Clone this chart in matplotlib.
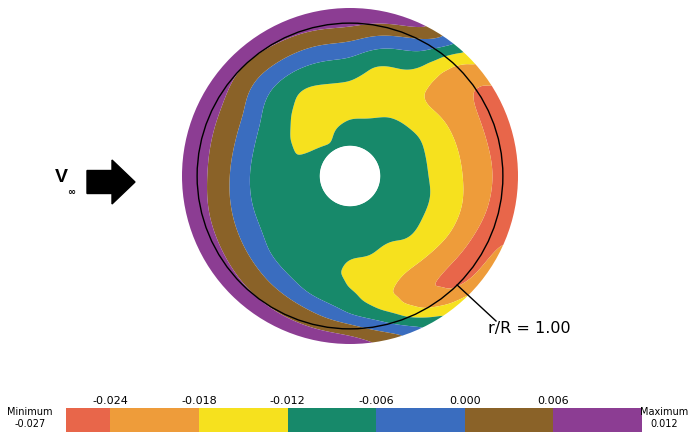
import numpy as np
import matplotlib
matplotlib.use("Agg")
import matplotlib.pyplot as plt
import matplotlib.cm as cm
from matplotlib.colors import ListedColormap, BoundaryNorm
from matplotlib.patches import Circle

ray_angles = [0, 15, 30, 45, 60, 75, 90, 105, 120, 135, 150, 165,
              180, 195, 210, 225, 240, 255, 270, 285, 300, 315, 330, 345]
# r/R of the samples on each ray (hole edge -> rim)
ray_radii = [0.18, 0.26, 0.34, 0.42, 0.50, 0.58, 0.66, 0.74, 0.82, 0.90, 0.96, 1.00]

ray_000 = [-0.0095, -0.0100, -0.0105, -0.0113, -0.0126, -0.0152, -0.0177, -0.0205, -0.0233, -0.0251, -0.0263, -0.0270]
ray_015 = [-0.0095, -0.0100, -0.0105, -0.0113, -0.0126, -0.0154, -0.0180, -0.0208, -0.0237, -0.0252, -0.0263, -0.0270]
ray_030 = [-0.0095, -0.0098, -0.0103, -0.0110, -0.0124, -0.0152, -0.0183, -0.0208, -0.0234, -0.0254, -0.0264, -0.0262]
ray_045 = [-0.0095, -0.0097, -0.0100, -0.0112, -0.0138, -0.0172, -0.0195, -0.0212, -0.0222, -0.0215, -0.0192, -0.0162]
ray_060 = [-0.0095, -0.0100, -0.0110, -0.0122, -0.0145, -0.0153, -0.0138, -0.0105, -0.0068, -0.0015, 0.0040, 0.0065]
ray_075 = [-0.0098, -0.0105, -0.0118, -0.0135, -0.0145, -0.0148, -0.0135, -0.0096, -0.0043, 0.0030, 0.0085, 0.0105]
ray_090 = [-0.0098, -0.0107, -0.0120, -0.0135, -0.0138, -0.0111, -0.0077, -0.0033, 0.0022, 0.0075, 0.0095, 0.0105]
ray_105 = [-0.0100, -0.0112, -0.0128, -0.0138, -0.0135, -0.0116, -0.0082, -0.0040, 0.0013, 0.0065, 0.0092, 0.0105]
ray_120 = [-0.0112, -0.0128, -0.0138, -0.0142, -0.0140, -0.0127, -0.0088, -0.0040, 0.0012, 0.0060, 0.0088, 0.0102]
ray_135 = [-0.0108, -0.0123, -0.0135, -0.0134, -0.0120, -0.0098, -0.0075, -0.0040, 0.0010, 0.0050, 0.0085, 0.0102]
ray_150 = [-0.0104, -0.0117, -0.0128, -0.0118, -0.0097, -0.0074, -0.0041, 0.0008, 0.0040, 0.0075, 0.0095, 0.0108]
ray_165 = [-0.0100, -0.0110, -0.0115, -0.0104, -0.0088, -0.0066, -0.0025, 0.0016, 0.0048, 0.0080, 0.0098, 0.0110]
ray_180 = [-0.0098, -0.0102, -0.0103, -0.0098, -0.0088, -0.0068, -0.0027, 0.0013, 0.0049, 0.0083, 0.0100, 0.0110]
ray_195 = [-0.0097, -0.0100, -0.0102, -0.0098, -0.0090, -0.0071, -0.0035, 0.0004, 0.0038, 0.0075, 0.0095, 0.0108]
ray_210 = [-0.0096, -0.0099, -0.0101, -0.0099, -0.0092, -0.0072, -0.0042, -0.0005, 0.0032, 0.0070, 0.0092, 0.0106]
ray_225 = [-0.0096, -0.0099, -0.0102, -0.0101, -0.0095, -0.0082, -0.0063, -0.0018, 0.0023, 0.0060, 0.0088, 0.0103]
ray_240 = [-0.0097, -0.0100, -0.0103, -0.0103, -0.0099, -0.0090, -0.0074, -0.0045, 0.0010, 0.0050, 0.0085, 0.0102]
ray_255 = [-0.0098, -0.0102, -0.0106, -0.0108, -0.0107, -0.0100, -0.0086, -0.0068, -0.0010, 0.0042, 0.0080, 0.0098]
ray_270 = [-0.0098, -0.0103, -0.0108, -0.0113, -0.0122, -0.0133, -0.0123, -0.0093, -0.0060, 0.0025, 0.0078, 0.0095]
ray_285 = [-0.0098, -0.0103, -0.0108, -0.0114, -0.0120, -0.0140, -0.0158, -0.0168, -0.0125, -0.0060, 0.0000, 0.0035]
ray_300 = [-0.0097, -0.0102, -0.0108, -0.0115, -0.0129, -0.0155, -0.0182, -0.0210, -0.0234, -0.0198, -0.0135, -0.0095]
ray_315 = [-0.0096, -0.0099, -0.0104, -0.0110, -0.0115, -0.0142, -0.0180, -0.0220, -0.0252, -0.0258, -0.0232, -0.0180]
ray_330 = [-0.0096, -0.0098, -0.0102, -0.0108, -0.0120, -0.0144, -0.0168, -0.0204, -0.0246, -0.0262, -0.0240, -0.0220]
ray_345 = [-0.0095, -0.0098, -0.0102, -0.0108, -0.0120, -0.0144, -0.0168, -0.0198, -0.0235, -0.0255, -0.0265, -0.0268]

rays = [ray_000, ray_015, ray_030, ray_045, ray_060, ray_075, ray_090, ray_105,
        ray_120, ray_135, ray_150, ray_165, ray_180, ray_195, ray_210, ray_225,
        ray_240, ray_255, ray_270, ray_285, ray_300, ray_315, ray_330, ray_345]

cbar_bounds = [-0.027, -0.024, -0.018, -0.012, -0.006, 0.000, 0.006, 0.012]
cbar_ticks = [-0.024, -0.018, -0.012, -0.006, 0.000, 0.006]
cbar_ticklabels = ["-0.024", "-0.018", "-0.012", "-0.006", "0.000", "0.006"]
band_colors = ["#E8664A", "#EE9C3A", "#F6E11E", "#17896A", "#3A6DBF", "#8A6228", "#8C3D93"]

hole_r = 0.179
ref_circle_r = 0.91   # r/R = 1.00 circle


def gauss_kernel(sig):
    n = int(3*sig) + 1
    k = np.exp(-0.5*(np.arange(-n, n + 1)/sig)**2)
    return k/k.sum(), n


# ---------------------------------------------------------------------------
fig = plt.figure(figsize=(6.92, 4.35), dpi=100, facecolor="white")
ax = fig.add_axes([0, 0, 1, 1])
ax.set_xlim(-350/168., 342/168.)
ax.set_ylim(-258/168., 177/168.)
ax.set_aspect("equal")
ax.axis("off")

# bilinear resample of the ray samples onto a fine polar mesh
Z = np.array(rays)
tf = np.arange(0, 360, 0.5)
rf = np.linspace(0.18, 1.04, 173)
zr = np.array([np.interp(rf, ray_radii, row) for row in Z])           # along r
zf = np.array([np.interp(tf, ray_angles, col, period=360) for col in zr.T]).T  # along theta

# soften the kinks at the sample rays / rings
k, n = gauss_kernel(10.0)                    # ~5 deg along theta, wraps round
zp = np.vstack([zf[-n:], zf, zf[:n]])
zf = np.apply_along_axis(lambda c: np.convolve(c, k, mode="valid"), 0, zp)
k, n = gauss_kernel(3.0)                     # ~0.015 r/R along r
zp = np.hstack([np.repeat(zf[:, :1], n, 1), zf, np.repeat(zf[:, -1:], n, 1)])
zf = np.apply_along_axis(lambda c: np.convolve(c, k, mode="valid"), 1, zp)

TF, RF = np.meshgrid(np.radians(np.append(tf, 360.0)), rf, indexing="ij")
zf = np.vstack([zf, zf[:1]])

levels = [-1.0] + cbar_ticks + [1.0]
cf = ax.contourf(RF*np.cos(TF), RF*np.sin(TF), zf, levels=levels,
                 colors=band_colors, antialiased=True)
disk = Circle((0, 0), 1.0, transform=ax.transData)
cf.set_clip_path(disk)

ax.add_patch(Circle((0, 0), hole_r, fc="white", ec="none", zorder=3))
ax.add_patch(Circle((0, 0), ref_circle_r, fill=False, ec="black", lw=1.0, zorder=4))

# r/R label with leader line
la = np.radians(-45.5)
p0 = (ref_circle_r*np.cos(la), ref_circle_r*np.sin(la))
p1 = (146/168., -145/168.)
ax.plot([p0[0], p1[0]], [p0[1], p1[1]], color="black", lw=1.0, zorder=4)
ax.text(138/168., -152/168., "r/R = 1.00", fontsize=11.5, ha="left", va="center",
        family="DejaVu Sans")

# free-stream arrow
ax.arrow(-263/168., -6/168., 48/168., 0, width=23/168., head_width=44/168.,
         head_length=23/168., length_includes_head=True, fc="black", ec="black")
ax.text(-289/168., -1/168., "V", fontsize=14, fontweight="bold", ha="center",
        va="center", family="Liberation Sans")
ax.text(-279/168., -15/168., "\u221e", fontsize=7, fontweight="bold", ha="center",
        va="center")

# colour bar
cax = fig.add_axes([66/692., 2/435., 576/692., 24/435.])
sm = cm.ScalarMappable(norm=BoundaryNorm(cbar_bounds, len(band_colors)),
                       cmap=ListedColormap(band_colors))
cb = fig.colorbar(sm, cax=cax, orientation="horizontal", spacing="proportional",
                  ticks=cbar_ticks)
cb.outline.set_visible(False)
cax.minorticks_off()
cax.xaxis.set_ticks_position("top")
cax.set_xticks(cbar_ticks)
cax.set_xticklabels(cbar_ticklabels)
cax.tick_params(axis="x", which="both", length=0, pad=2, labelsize=8)

fig.text(30/692., 1 - 418/435., "Minimum\n-0.027", fontsize=7, ha="center",
         va="center", linespacing=1.3)
fig.text(664/692., 1 - 418/435., "Maximum\n0.012", fontsize=7, ha="center",
         va="center", linespacing=1.3)

fig.savefig("out.png", dpi=100, facecolor="white")
